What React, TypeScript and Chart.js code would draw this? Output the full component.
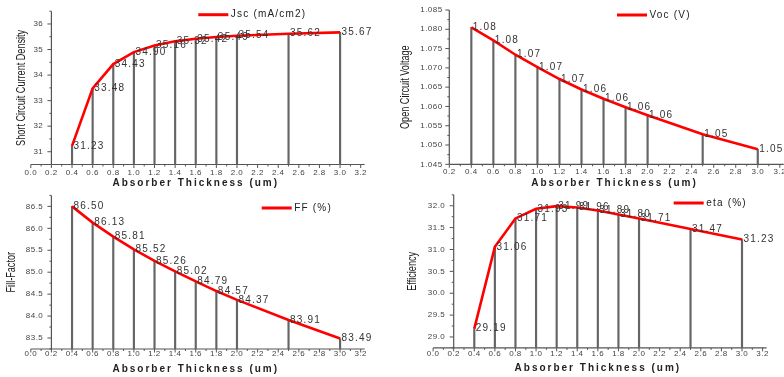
import React, { useEffect, useRef } from 'react';
import { Chart, registerables } from 'chart.js';
Chart.register(...registerables);

// ---------- data ----------
const thickness = [0.4, 0.6, 0.8, 1.0, 1.2, 1.4, 1.6, 1.8, 2.0, 2.5, 3.0];
const jscValues = [31.23, 33.48, 34.43, 34.9, 35.16, 35.32, 35.42, 35.49, 35.54, 35.62, 35.67];
const vocValues = [1.0805, 1.0771, 1.0734, 1.0702, 1.0671, 1.0644, 1.062, 1.0598, 1.0577, 1.0528, 1.0489];
const ffValues = [86.5, 86.13, 85.81, 85.52, 85.26, 85.02, 84.79, 84.57, 84.37, 83.91, 83.49];
const etaValues = [29.19, 31.06, 31.71, 31.93, 31.99, 31.96, 31.89, 31.8, 31.71, 31.47, 31.23];

const seriesLabels = ['Jsc (mA/cm2)', 'Voc (V)', 'FF (%)', 'eta (%)'];
const yTitles = ['Short Circuit Current Density', 'Open Circuit Voltage', 'Fill-Factor', 'Efficiency'];
const xTitle = 'Absorber Thickness (um)';

// y axis ranges: [min, max, minor step, major step, decimals]
const yRanges: number[][] = [
  [30.5, 36.5, 0.5, 1, 0],
  [1.045, 1.085, 0.0025, 0.005, 3],
  [83.25, 86.75, 0.25, 0.5, 1],
  [28.75, 32.25, 0.25, 0.5, 1],
];
const xMins = [0.0, 0.2, 0.0, 0.0];
const xMax = 3.2;
const xStep = 0.2;
const axisAt = 0.2;

// ---------- layout (pixels) ----------
const panels = [
  { x: 0, y: 0, w: 392, h: 190, L: 30.8, R: 360.7, T: 11.2, B: 164.5, titleX: 22, labelRight: 43.3, tickY: 172.7, xTitleY: 183.3, leg: [198.3, 228.3, 14.7] },
  { x: 392, y: 0, w: 392, h: 190, L: 57.3, R: 387.8, T: 10, B: 164.3, titleX: 14, labelRight: 50.7, tickY: 171.7, xTitleY: 183.7, leg: [225, 255, 15] },
  { x: 0, y: 188, w: 392, h: 189, L: 30.8, R: 360.7, T: 7.4, B: 161, titleX: 11.7, labelRight: 43.3, tickY: 165.7, xTitleY: 181, leg: [261.7, 291.7, 20] },
  { x: 392, y: 188, w: 392, h: 189, L: 41.1, R: 370.6, T: 6.8, B: 159.9, titleX: 20.7, labelRight: 53.3, tickY: 165.7, xTitleY: 180.3, leg: [281.7, 311.7, 15] },
];
const seriesValues = [jscValues, vocValues, ffValues, etaValues];

const FONT = "'Liberation Sans', Arial, sans-serif";
const NARROW_FACTOR = 0.76;
const Y_TITLE_SIZE = 12;

function isMajor(v: number, major: number) {
  const r = v / major;
  return Math.abs(r - Math.round(r)) < 1e-6;
}

function wrapScale(scale: any, tickLS: number, titleLS: number, squeeze: number) {
  if (scale.__wrapped) return;
  scale.__wrapped = true;
  const dl = scale.drawLabels;
  const dt = scale.drawTitle;
  scale._computeLabelArea = () => undefined;
  scale.drawLabels = function (a: any) {
    const c = this.ctx;
    c.save();
    c.letterSpacing = tickLS + 'px';
    dl.call(this, a);
    c.restore();
  };
  scale.drawTitle = function () {
    const c = this.ctx;
    c.save();
    c.letterSpacing = titleLS + 'px';
    if (squeeze !== 1) {
      const cy = (this.top + this.bottom) / 2;
      c.translate(0, cy);
      c.scale(1, squeeze);
      c.translate(0, -cy);
    }
    dt.call(this);
    c.restore();
  };
}

function makePlugin(idx: number) {
  const p = panels[idx];
  const yr = yRanges[idx];
  return {
    id: 'custom' + idx,
    afterLayout(chart: any) {
      wrapScale(chart.scales.x, 0.5, 2, 1);
      wrapScale(chart.scales.y, 0.5, 0, NARROW_FACTOR);
    },
    beforeDatasetsDraw(chart: any) {
      const ctx = chart.ctx;
      const xs = chart.scales.x;
      const ys = chart.scales.y;
      const a = chart.chartArea;
      const ax = xs.getPixelForValue(axisAt);
      ctx.save();
      ctx.strokeStyle = '#555';
      ctx.lineWidth = 1.2;
      ctx.beginPath();
      ctx.moveTo(a.left, a.bottom);
      ctx.lineTo(a.right + 4, a.bottom);
      ctx.moveTo(ax, a.top);
      ctx.lineTo(ax, a.bottom);
      ctx.stroke();
      ctx.lineWidth = 1;
      ctx.beginPath();
      const xt = xs.ticks;
      for (let i = 0; i < xt.length; i++) {
        const px = xs.getPixelForValue(xt[i].value);
        ctx.moveTo(px, a.bottom);
        ctx.lineTo(px, a.bottom + 3.5);
        if (i < xt.length - 1) {
          const mx = (px + xs.getPixelForValue(xt[i + 1].value)) / 2;
          ctx.moveTo(mx, a.bottom);
          ctx.lineTo(mx, a.bottom + 2);
        }
      }
      for (const t of ys.ticks) {
        const py = ys.getPixelForValue(t.value);
        const len = isMajor(t.value, yr[3]) ? 4 : 2;
        ctx.moveTo(ax, py);
        ctx.lineTo(ax - len, py);
      }
      ctx.stroke();
      ctx.restore();
    },
    afterDatasetsDraw(chart: any) {
      const ctx = chart.ctx;
      const meta = chart.getDatasetMeta(0);
      const ds = chart.data.datasets[0];
      ctx.save();
      ctx.font = '10px ' + FONT;
      ctx.letterSpacing = '1.2px';
      ctx.fillStyle = '#333';
      ctx.textAlign = 'left';
      ctx.textBaseline = 'middle';
      meta.data.forEach((pt: any, i: number) => {
        ctx.fillText(ds.data[i].y.toFixed(2), pt.x + 1.5, pt.y);
      });
      // legend
      const [x1, x2, ly] = p.leg;
      ctx.strokeStyle = '#ff0000';
      ctx.lineWidth = 3;
      ctx.beginPath();
      ctx.moveTo(x1, ly);
      ctx.lineTo(x2, ly);
      ctx.stroke();
      ctx.fillStyle = '#222';
      ctx.fillText(ds.label, x2 + 2.5, ly);
      ctx.restore();
    },
  };
}

function Panel({ idx }: { idx: number }) {
  const ref = useRef<HTMLCanvasElement>(null);
  useEffect(() => {
    const p = panels[idx];
    const yr = yRanges[idx];
    const vals = seriesValues[idx];
    const pts = thickness.map((x, i) => ({ x, y: vals[i] }));
    const chart = new Chart(ref.current as HTMLCanvasElement, {
      type: 'line',
      data: {
        datasets: [
          {
            type: 'line',
            label: seriesLabels[idx],
            data: pts,
            borderColor: '#ff0000',
            borderWidth: 2.6,
            pointRadius: 0,
            tension: 0,
            order: 0,
          } as any,
          {
            type: 'bar',
            label: 'drop',
            data: pts,
            backgroundColor: '#656565',
            borderWidth: 0,
            barThickness: 1.5,
            order: 1,
          } as any,
        ],
      },
      options: {
        responsive: false,
        animation: false,
        devicePixelRatio: 1,
        events: [],
        layout: { padding: { left: 0, top: p.T, right: p.w - p.R, bottom: 0 } },
        plugins: { legend: { display: false }, tooltip: { enabled: false } },
        scales: {
          x: {
            type: 'linear',
            min: xMins[idx],
            max: xMax,
            offset: false,
            grid: { display: false, drawTicks: false },
            border: { display: false },
            ticks: {
              stepSize: xStep,
              autoSkip: false,
              maxRotation: 0,
              minRotation: 0,
              maxTicksLimit: 100,
              padding: p.tickY - p.B - 4.8,
              color: '#444',
              font: { family: FONT, size: 8 },
              callback: (v: any) => Number(v).toFixed(1),
            },
            title: {
              display: true,
              text: xTitle,
              color: '#222',
              font: { family: FONT, size: 10, weight: 'bold' },
              padding: { top: 0, bottom: p.h - p.xTitleY - 6 },
            },
            afterFit: (s: any) => {
              s.height = p.h - p.B;
              s.paddingLeft = 0;
              s.paddingRight = 0;
            },
          },
          y: {
            type: 'linear',
            min: yr[0],
            max: yr[1],
            grid: { display: false, drawTicks: false },
            border: { display: false },
            ticks: {
              stepSize: yr[2],
              autoSkip: false,
              maxTicksLimit: 100,
              padding: p.L - p.labelRight,
              color: '#444',
              font: { family: FONT, size: 8 },
              callback: (v: any) => (isMajor(Number(v), yr[3]) ? Number(v).toFixed(yr[4]) : ''),
            },
            title: {
              display: true,
              text: yTitles[idx],
              color: '#1a1a1a',
              font: { family: FONT, size: Y_TITLE_SIZE },
              padding: { top: p.titleX - Y_TITLE_SIZE * 0.6, bottom: 0 },
            },
            afterFit: (s: any) => {
              s.width = p.L;
              s.paddingTop = 0;
              s.paddingBottom = 0;
            },
          },
        },
      } as any,
      plugins: [makePlugin(idx)],
    });
    return () => chart.destroy();
  }, [idx]);
  const p = panels[idx];
  return (
    <canvas
      ref={ref}
      width={p.w}
      height={p.h}
      style={{ position: 'absolute', left: p.x, top: p.y, width: p.w, height: p.h }}
    />
  );
}

export default function App() {
  return (
    <div style={{ position: 'fixed', left: 0, top: 0, width: 784, height: 377, background: '#fff', overflow: 'hidden' }}>
      {panels.map((_, i) => (
        <Panel key={i} idx={i} />
      ))}
    </div>
  );
}
